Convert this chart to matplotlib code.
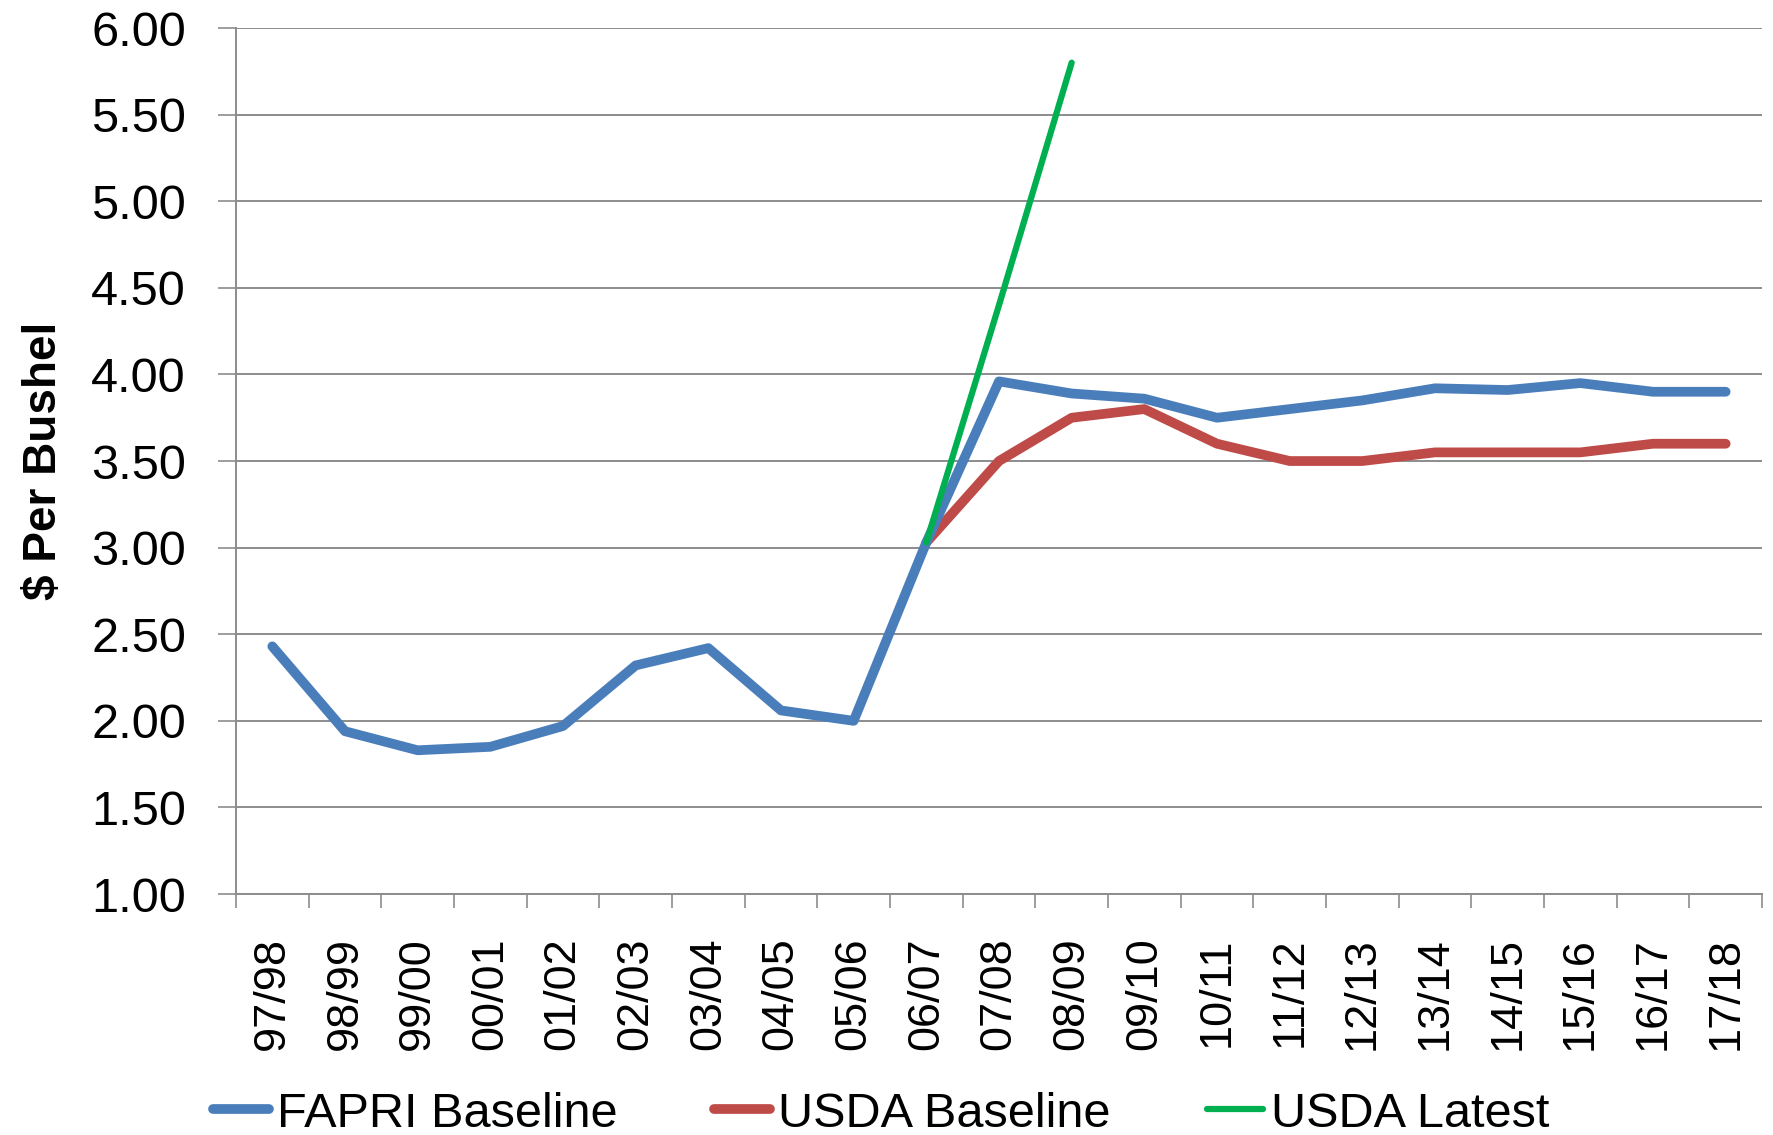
import matplotlib
matplotlib.use("Agg")
import matplotlib.pyplot as plt
from matplotlib.ticker import FixedLocator, NullFormatter
import numpy as np

plt.rcParams['font.family'] = ['Liberation Sans', 'DejaVu Sans']

# marketing years
years = ["97/98", "98/99", "99/00", "00/01", "01/02", "02/03", "03/04",
         "04/05", "05/06", "06/07", "07/08", "08/09", "09/10", "10/11",
         "11/12", "12/13", "13/14", "14/15", "15/16", "16/17", "17/18"]

# $ per bushel
fapri_baseline = [2.43, 1.94, 1.83, 1.85, 1.97, 2.32, 2.42, 2.06, 2.00, 3.03,
                  3.96, 3.89, 3.86, 3.75, 3.80, 3.85, 3.92, 3.91, 3.95, 3.90, 3.90]
usda_baseline = [None] * 9 + [3.03, 3.50, 3.75, 3.80, 3.60, 3.50, 3.50,
                              3.55, 3.55, 3.55, 3.60, 3.60]
usda_latest = [None] * 9 + [3.03, 4.40, 5.80] + [None] * 9

yticks = [1.00, 1.50, 2.00, 2.50, 3.00, 3.50, 4.00, 4.50, 5.00, 5.50, 6.00]


def to_arr(vals):
    return np.array([np.nan if v is None else v for v in vals], dtype=float)


fig = plt.figure(figsize=(17.73, 11.35), dpi=100)
ax = fig.add_axes([0.1331, 0.2123, 0.8607, 0.7630])

x = np.arange(len(years))
ax.plot(x, to_arr(fapri_baseline), color="#4A7EBB", lw=7,
        solid_joinstyle="round", solid_capstyle="round", label="FAPRI Baseline", zorder=3)
ax.plot(x, to_arr(usda_baseline), color="#BE4B48", lw=7,
        solid_joinstyle="round", solid_capstyle="round", label="USDA Baseline", zorder=2)
ax.plot(x, to_arr(usda_latest), color="#00B050", lw=4.5,
        solid_joinstyle="round", solid_capstyle="round", label="USDA Latest", zorder=4)

ax.set_xlim(-0.5, len(years) - 0.5)
ax.set_ylim(1.0, 6.0)

# y axis
ax.set_yticks(yticks)
ax.set_yticklabels([f"{v:.2f}" for v in yticks])
ax.yaxis.grid(True, color="#8c8c8c", lw=1.4)
ax.set_axisbelow(True)
ax.tick_params(axis="y", length=13, width=1.2, color="#8c8c8c", pad=23,
               labelsize=35)

# x axis: tick marks between categories, labels at centres
ax.xaxis.set_major_locator(FixedLocator(np.arange(len(years) + 1) - 0.5))
ax.xaxis.set_major_formatter(NullFormatter())
ax.xaxis.set_minor_locator(FixedLocator(x))
ax.set_xticklabels(years, minor=True, rotation=90)
ax.tick_params(axis="x", which="major", length=10, width=1.2, color="#8c8c8c")
ax.tick_params(axis="x", which="minor", length=0, pad=31, labelsize=32.5)

for side in ("top", "right"):
    ax.spines[side].set_visible(False)
for side in ("left", "bottom"):
    ax.spines[side].set_color("#8c8c8c")
    ax.spines[side].set_linewidth(1.4)

fig.text(0.025, 0.594, "$ Per Bushel", rotation=90, fontsize=33,
         fontweight="bold", ha="center", va="center")

fig.legend(loc="center", bbox_to_anchor=(0.497, 0.0185), ncol=3,
           frameon=False, fontsize=35, handlelength=1.15, handletextpad=0.15,
           columnspacing=2.0, borderaxespad=0)

fig.savefig("out.png", dpi=100)
